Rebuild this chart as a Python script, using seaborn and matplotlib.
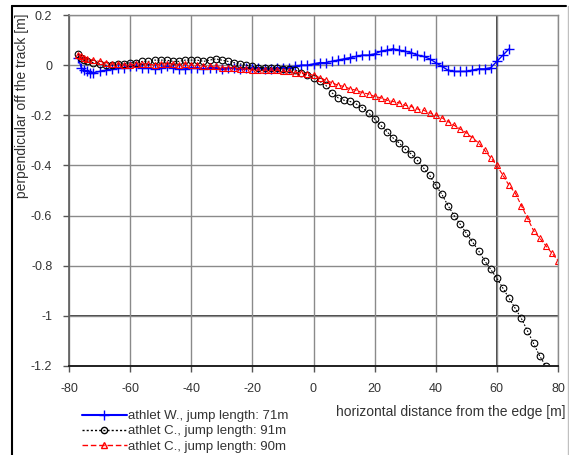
import matplotlib
matplotlib.use("Agg")
import matplotlib.pyplot as plt
import seaborn as sns
import pandas as pd
from matplotlib.lines import Line2D

sns.set_theme(style="white")
plt.rcParams['font.family'] = ['Liberation Sans', 'DejaVu Sans']

# ---- data ----
blue_x = [-77, -76, -75, -74, -73, -72, -70, -68, -66, -64, -62, -60, -58, -56, -54, -52, -50,
          -48, -46, -44, -42, -40, -38, -36, -34, -32, -30, -28, -26, -24, -22, -20, -18, -16,
          -14, -12, -10, -8, -6, -4, -2, 0, 2, 4, 6, 8, 10, 12, 14, 16, 18, 20, 22, 24, 26, 28,
          30, 32, 34, 36, 38, 40, 42, 44, 46, 48, 50, 52, 54, 56, 58, 60, 62, 64]
blue_y = [0.03, -0.01, -0.02, -0.025, -0.03, -0.03, -0.025, -0.02, -0.015, -0.01, -0.01, -0.005,
          -0.005, -0.01, -0.01, -0.015, -0.01, -0.005, -0.01, -0.015, -0.015, -0.01, -0.01, -0.015,
          -0.01, -0.01, -0.015, -0.01, -0.01, -0.015, -0.01, -0.01, -0.01, -0.015, -0.015, -0.01,
          -0.01, -0.01, -0.005, 0.0, 0.0, 0.005, 0.01, 0.01, 0.015, 0.02, 0.025, 0.03, 0.035, 0.04,
          0.04, 0.045, 0.055, 0.06, 0.065, 0.06, 0.055, 0.05, 0.04, 0.035, 0.025, 0.01, -0.005,
          -0.02, -0.025, -0.025, -0.025, -0.02, -0.015, -0.015, -0.01, 0.015, 0.04, 0.065]

black_x = [-77, -76, -75, -74, -72, -70, -68, -66, -64, -62, -60, -58, -56, -54, -52, -50, -48,
           -46, -44, -42, -40, -38, -36, -34, -32, -30, -28, -26, -24, -22, -20, -18, -16, -14,
           -12, -10, -8, -6, -4, -2, 0, 2, 4, 6, 8, 10, 12, 14, 16, 18, 20, 22, 24, 26, 28, 30,
           32, 34, 36, 38, 40, 42, 44, 46, 48, 50, 52, 54, 56, 58, 60, 62, 64, 66, 68, 70, 72,
           74, 76]
black_y = [0.045, 0.03, 0.02, 0.015, 0.01, 0.005, 0.0, 0.0, 0.005, 0.005, 0.01, 0.01, 0.015,
           0.015, 0.02, 0.02, 0.02, 0.015, 0.015, 0.02, 0.02, 0.02, 0.015, 0.02, 0.025, 0.02,
           0.015, 0.01, 0.005, 0.0, -0.005, -0.01, -0.01, -0.01, -0.01, -0.015, -0.015, -0.02,
           -0.03, -0.04, -0.05, -0.065, -0.08, -0.11, -0.13, -0.14, -0.145, -0.155, -0.17, -0.19,
           -0.215, -0.24, -0.265, -0.29, -0.31, -0.335, -0.355, -0.38, -0.41, -0.44, -0.48,
           -0.515, -0.56, -0.6, -0.635, -0.67, -0.705, -0.74, -0.78, -0.815, -0.85, -0.89,
           -0.93, -0.97, -1.01, -1.06, -1.11, -1.16, -1.2]

red_x = [-77, -76, -75, -74, -72, -70, -68, -66, -64, -62, -60, -58, -56, -54, -52, -50, -48,
         -46, -44, -42, -40, -38, -36, -34, -32, -30, -28, -26, -24, -22, -20, -18, -16, -14,
         -12, -10, -8, -6, -4, -2, 0, 2, 4, 6, 8, 10, 12, 14, 16, 18, 20, 22, 24, 26, 28, 30,
         32, 34, 36, 38, 40, 42, 44, 46, 48, 50, 52, 54, 56, 58, 60, 62, 64, 66, 68, 70, 72,
         74, 76, 78, 80]
red_y = [0.04, 0.035, 0.03, 0.025, 0.02, 0.015, 0.01, 0.005, 0.005, 0.0, 0.0, 0.005, 0.005,
         0.005, 0.0, 0.005, 0.005, 0.005, 0.0, 0.005, 0.0, 0.0, -0.005, -0.005, -0.005, -0.01,
         -0.01, -0.01, -0.015, -0.015, -0.02, -0.02, -0.02, -0.02, -0.02, -0.025, -0.025, -0.03,
         -0.03, -0.035, -0.04, -0.05, -0.06, -0.07, -0.08, -0.085, -0.095, -0.1, -0.11, -0.115,
         -0.125, -0.13, -0.14, -0.145, -0.15, -0.16, -0.165, -0.175, -0.18, -0.19, -0.2, -0.21,
         -0.225, -0.24, -0.255, -0.27, -0.29, -0.31, -0.34, -0.37, -0.4, -0.44, -0.48, -0.51,
         -0.56, -0.61, -0.66, -0.69, -0.72, -0.75, -0.78]

labels = ["athlet W., jump length: 71m",
          "athlet C., jump length: 91m",
          "athlet C., jump length: 90m"]
x_ticks = [-80, -60, -40, -20, 0, 20, 40, 60, 80]
y_ticks = [0.2, 0, -0.2, -0.4, -0.6, -0.8, -1, -1.2]
y_tick_labels = ["0.2", "0", "-0.2", "-0.4", "-0.6", "-0.8", "-1", "-1.2"]

df = pd.concat([
    pd.DataFrame({"x": blue_x, "y": blue_y, "series": labels[0]}),
    pd.DataFrame({"x": black_x, "y": black_y, "series": labels[1]}),
    pd.DataFrame({"x": red_x, "y": red_y, "series": labels[2]}),
], ignore_index=True)

colors = {labels[0]: "#0000ff", labels[1]: "#000000", labels[2]: "#ff0000"}
markers = {labels[0]: "+", labels[1]: "o", labels[2]: "^"}
dashes = {labels[0]: "", labels[1]: (1.5, 1.5), labels[2]: (4, 2)}

fig = plt.figure(figsize=(5.69, 4.55), dpi=100)
ax = fig.add_axes([69 / 569, 1 - 366 / 455, (558 - 69) / 569, (366 - 15) / 455])

for lab in labels:
    sub = df[df.series == lab]
    mk = markers[lab]
    kw = dict(marker=mk, markersize=6.5 if mk == "+" else 4.8,
              markeredgewidth=1.0 if mk == "+" else 0.8,
              linewidth=1.0 if mk == "+" else 0.8)
    if mk != "+":
        kw["markerfacecolor"] = "none"
    sns.lineplot(data=sub, x="x", y="y", color=colors[lab], sort=False, ax=ax,
                 estimator=None, legend=False, markeredgecolor=colors[lab], **kw)
    ln = ax.lines[-1]
    if dashes[lab]:
        ln.set_dashes(dashes[lab])

ax.set_xlim(-80, 80)
ax.set_ylim(-1.2, 0.2)
ax.set_xticks(x_ticks)
ax.set_yticks(y_ticks)
ax.set_xticklabels([str(v) for v in x_ticks])
ax.set_yticklabels(y_tick_labels)
ax.grid(True, color="#8a8a8a", linewidth=1.0)
ax.set_axisbelow(True)
ax.axvline(60, color="#202020", linewidth=1.2, zorder=0.5)
ax.axhline(-1, color="#202020", linewidth=1.2, zorder=0.5)
for s in ["top", "right"]:
    ax.spines[s].set_color("#8a8a8a")
    ax.spines[s].set_linewidth(1.0)
ax.spines["left"].set_color("#606060")
ax.spines["bottom"].set_color("#202020")
ax.spines["bottom"].set_linewidth(1.4)
ax.tick_params(axis="both", direction="out", length=4, width=1, color="#555555",
               labelsize=9, labelcolor="#333333", pad=8, bottom=True, left=True)
ax.set_xlabel("")
ax.set_ylabel("")

fig.text(22 / 569, 1 - 14 / 455, "perpendicular off the track [m]", rotation=90,
         ha="center", va="top", fontsize=10, color="#333333")
fig.text(566 / 569, 1 - 412 / 455, "horizontal distance from the edge [m]",
         ha="right", va="center", fontsize=10, color="#333333")

handles = []
for lab in labels:
    mk = markers[lab]
    h = Line2D([0], [0], color=colors[lab], marker=mk, markersize=7 if mk == "+" else 4.5,
               markerfacecolor="none" if mk != "+" else colors[lab],
               markeredgecolor=colors[lab], linewidth=1.5 if mk == "+" else 1.0)
    if dashes[lab]:
        h.set_dashes(dashes[lab])
    handles.append(h)
fig.legend(handles, labels, loc="upper left", bbox_to_anchor=(82 / 569, 1 - 410 / 455),
           frameon=False, fontsize=9.5, handlelength=3.4, handletextpad=0.1,
           labelspacing=0.22, borderpad=0, borderaxespad=0, labelcolor="#333333",
           markerfirst=True)

# outer frame
fig.add_artist(Line2D([12 / 569, 12 / 569], [-0.01, 1 - 6 / 455], color="black",
                      linewidth=1.5, transform=fig.transFigure))
fig.add_artist(Line2D([12 / 569, 566 / 569], [1 - 6 / 455, 1 - 6 / 455], color="black",
                      linewidth=1.5, transform=fig.transFigure))
fig.add_artist(Line2D([567.5 / 569, 567.5 / 569], [-0.01, 1 - 6 / 455], color="#c0c0c0",
                      linewidth=1.0, transform=fig.transFigure))

fig.savefig("out.png", dpi=100)
